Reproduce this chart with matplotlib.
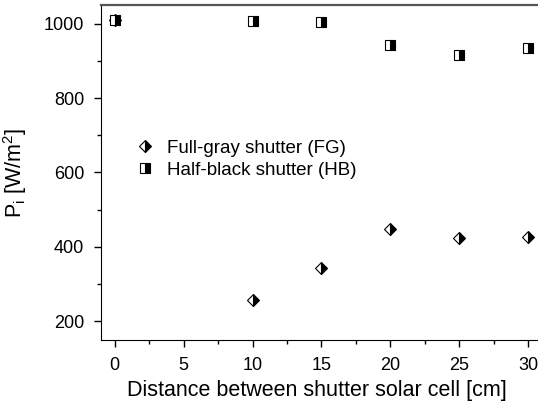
import matplotlib
matplotlib.use("Agg")
from matplotlib import pyplot as plt
from matplotlib.ticker import MultipleLocator

plt.rcParams['font.family'] = ['Liberation Sans', 'DejaVu Sans']
plt.rcParams['mathtext.fontset'] = 'custom'
plt.rcParams['mathtext.rm'] = 'Liberation Sans'

distance = [0, 10, 15, 20, 25, 30]
p_fg = [1010, 258, 344, 447, 424, 427]
p_hb = [1010, 1008, 1005, 943, 916, 934]

fig = plt.figure(figsize=(5.38, 4.09), dpi=100)
ax = fig.add_axes([0.1877, 0.1687, 0.8197, 0.8191])

ax.plot(distance, p_fg, linestyle='none', marker='D', markersize=6,
        fillstyle='right', color='black', markerfacecoloralt='white',
        markeredgewidth=0.8, label='Full-gray shutter (FG)')
ax.plot(distance, p_hb, linestyle='none', marker='s', markersize=6.5,
        fillstyle='right', color='black', markerfacecoloralt='white',
        markeredgewidth=0.8, label='Half-black shutter (HB)')

ax.set_xlim(-1, 31)
ax.set_ylim(150, 1050)
ax.xaxis.set_major_locator(MultipleLocator(5))
ax.xaxis.set_minor_locator(MultipleLocator(2.5))
ax.yaxis.set_major_locator(MultipleLocator(200))
ax.yaxis.set_minor_locator(MultipleLocator(100))
ax.tick_params(which='major', direction='out', length=5, width=1,
               labelsize=13, pad=7)
ax.tick_params(which='minor', direction='out', length=3, width=1)
ax.tick_params(top=False, right=False, which='both')

ax.spines['right'].set_visible(False)
ax.spines['top'].set_color('#555555')
ax.spines['top'].set_linewidth(1.6)

ax.set_xlabel('Distance between shutter solar cell [cm]', fontsize=15.5)
ax.set_ylabel(r'P$_\mathregular{i}$ [W/m$^\mathregular{2}$]', fontsize=15.5)
ax.xaxis.set_label_coords(0.489, -0.118)
ax.yaxis.set_label_coords(-0.163, 0.5)

ax.legend(loc='upper left', bbox_to_anchor=(0.078, 0.598), frameon=False,
          fontsize=13.5, handlelength=1.0, handletextpad=0.67,
          labelspacing=0.25, borderpad=0, borderaxespad=0)

fig.savefig('out.png', dpi=100)
